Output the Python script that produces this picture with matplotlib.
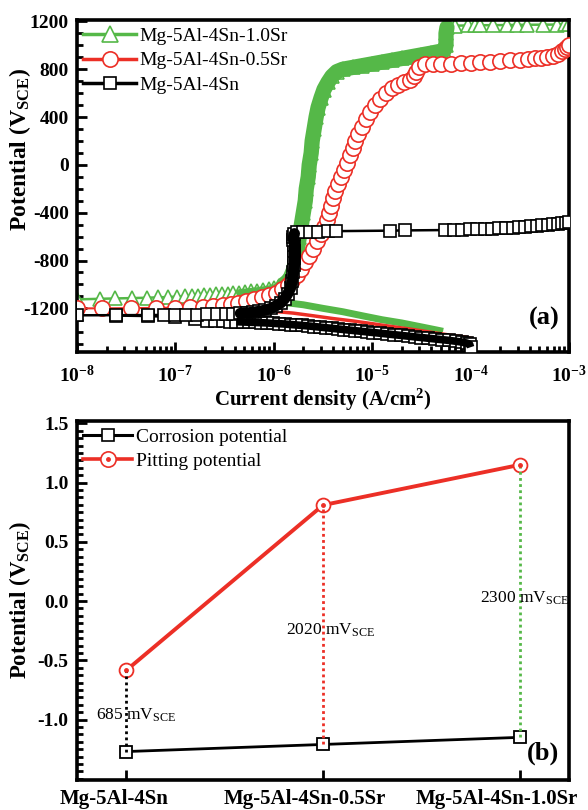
import numpy as np
import matplotlib
matplotlib.use("Agg")
import matplotlib.pyplot as plt
from matplotlib.lines import Line2D
from matplotlib.transforms import blended_transform_factory
from matplotlib.ticker import LogLocator, NullFormatter, AutoMinorLocator, FixedLocator, NullLocator

plt.rcParams['font.family'] = ['Liberation Serif', 'DejaVu Serif']
plt.rcParams['mathtext.fontset'] = 'custom'
plt.rcParams['mathtext.rm'] = 'Liberation Serif:bold'
plt.rcParams['mathtext.bf'] = 'Liberation Serif:bold'
plt.rcParams['mathtext.it'] = 'Liberation Serif:italic:bold'
plt.rcParams['mathtext.sf'] = 'Liberation Serif'
plt.rcParams['axes.unicode_minus'] = False

# ---------------- polarization data (log10 of current density, potential in mV) ----------------
# Mg-5Al-4Sn-1.0Sr
sr10_an_log = [-8.0, -7.77, -7.61, -7.44, -7.29, -7.18, -7.08, -6.98, -6.90, -6.83,
               -6.77, -6.71, -6.65, -6.59, -6.53, -6.47, -6.41, -6.35, -6.29, -6.23,
               -6.17, -6.11, -6.05, -6.00, -5.95, -5.90, -5.86, -5.83, -5.80, -5.78,
               -5.76, -5.74, -5.72, -5.70, -5.68, -5.67, -5.65, -5.64, -5.62, -5.61,
               -5.59, -5.57, -5.55, -5.52, -5.49, -5.45, -5.41, -5.36, -5.30, -5.20,
               -5.10, -5.00, -4.90, -4.80, -4.70, -4.60, -4.50, -4.40, -4.32, -4.27,
               -4.25, -4.25, -4.25, -4.24, -4.16, -4.03, -3.96, -3.90, -3.77, -3.63,
               -3.53, -3.43, -3.26, -3.12, -3.04, -3.00]
sr10_an_E = [-1125, -1120, -1117, -1114, -1111, -1108, -1105, -1102, -1099, -1096,
             -1093, -1090, -1087, -1084, -1080, -1076, -1072, -1068, -1063, -1058,
             -1052, -1045, -1037, -1028, -1016, -1000, -975, -940, -880, -800,
             -700, -600, -500, -400, -300, -200, -100, 0, 100, 200,
             300, 400, 480, 560, 630, 690, 740, 780, 800, 815,
             830, 845, 860, 875, 890, 905, 920, 935, 948, 955,
             1000, 1050, 1100, 1150, 1165, 1166, 1167, 1168, 1169, 1170,
             1171, 1172, 1173, 1174, 1175, 1175]
sr10_ca_log = [-5.90, -5.70, -5.50, -5.30, -5.10, -4.90, -4.70, -4.50, -4.35, -4.28]
sr10_ca_E = [-1150, -1170, -1200, -1228, -1262, -1295, -1322, -1355, -1380, -1392]

# Mg-5Al-4Sn-0.5Sr
sr05_an_log = [-8.00, -7.75, -7.45, -7.20, -7.00, -6.85, -6.72, -6.62, -6.52, -6.44,
               -6.36, -6.28, -6.20, -6.12, -6.05, -5.98, -5.92, -5.86, -5.81, -5.76,
               -5.72, -5.68, -5.64, -5.60, -5.56, -5.52, -5.49, -5.46, -5.44, -5.42,
               -5.40, -5.38, -5.35, -5.32, -5.29, -5.26, -5.23, -5.20, -5.17, -5.14,
               -5.10, -5.06, -5.02, -4.97, -4.92, -4.86, -4.80, -4.74, -4.68, -4.62,
               -4.58, -4.55, -4.52, -4.46, -4.38, -4.30, -4.20, -4.10, -4.00, -3.90,
               -3.80, -3.70, -3.60, -3.50, -3.42, -3.35, -3.28, -3.22, -3.16, -3.11,
               -3.07, -3.04, -3.02, -3.00]
sr05_an_E = [-1200, -1200, -1198, -1196, -1194, -1190, -1186, -1180, -1172, -1163,
             -1152, -1140, -1125, -1108, -1090, -1068, -1040, -1005, -965, -920,
             -870, -815, -760, -700, -640, -580, -520, -460, -400, -340,
             -280, -220, -160, -100, -40, 20, 80, 140, 200, 260,
             320, 380, 440, 500, 550, 600, 640, 670, 690, 710,
             740, 780, 820, 840, 842, 845, 848, 850, 853, 858,
             862, 868, 874, 880, 886, 892, 898, 905, 915, 930,
             950, 970, 990, 1000]
sr05_ca_log = [-6.00, -5.80, -5.60, -5.40, -5.20, -5.00, -4.80, -4.60, -4.40, -4.20, -4.05, -4.00]
sr05_ca_E = [-1225, -1240, -1262, -1285, -1305, -1328, -1352, -1375, -1400, -1425, -1440, -1450]

# Mg-5Al-4Sn
sn_an_log = [-8.0, -7.60, -7.28, -7.12, -7.00, -6.89, -6.78, -6.68, -6.58, -6.49,
             -6.41, -6.34, -6.27, -6.21, -6.15, -6.09, -6.03, -5.98, -5.93, -5.89,
             -5.86, -5.83, -5.81, -5.80, -5.79, -5.79, -5.79, -5.79, -5.80, -5.80,
             -5.79, -5.76, -5.70, -5.63, -5.55, -5.45, -5.37, -4.82, -4.67, -4.26,
             -4.17, -4.09, -4.01, -3.93, -3.85, -3.78, -3.71, -3.64, -3.57, -3.51,
             -3.45, -3.39, -3.33, -3.27, -3.21, -3.16, -3.11, -3.07, -3.03, -3.00]
sn_an_E = [-1258, -1257, -1256, -1255, -1254, -1253, -1252, -1251, -1250, -1248,
           -1245, -1242, -1238, -1232, -1225, -1215, -1200, -1180, -1155, -1120,
           -1080, -1030, -970, -900, -840, -780, -720, -670, -630, -600,
           -575, -565, -562, -560, -558, -556, -554, -550, -548, -545,
           -543, -541, -540, -538, -536, -533, -530, -527, -524, -520,
           -516, -512, -508, -504, -500, -496, -492, -488, -484, -480]
sn_ca_log = [-7.6, -7.28, -7.0, -6.8, -6.68, -6.6, -6.52, -6.45, -6.38, -6.31,
             -6.25, -6.19, -6.13, -6.07, -6.01, -5.95, -5.89, -5.83, -5.77, -5.71,
             -5.65, -5.59, -5.53, -5.47, -5.41, -5.35, -5.29, -5.23, -5.17, -5.11,
             -5.05, -4.99, -4.92, -4.85, -4.78, -4.71, -4.64, -4.57, -4.50, -4.43,
             -4.36, -4.29, -4.22, -4.15, -4.09, -4.04, -4.01, -4.0]
sn_ca_E = [-1262, -1266, -1275, -1290, -1303, -1306, -1308, -1310, -1312, -1314,
           -1316, -1318, -1320, -1322, -1325, -1328, -1331, -1335, -1339, -1343,
           -1347, -1352, -1357, -1362, -1367, -1372, -1377, -1382, -1387, -1392,
           -1397, -1402, -1408, -1414, -1420, -1426, -1432, -1438, -1444, -1450,
           -1456, -1462, -1468, -1475, -1482, -1490, -1500, -1525]

alloy_names = ['Mg-5Al-4Sn-1.0Sr', 'Mg-5Al-4Sn-0.5Sr', 'Mg-5Al-4Sn']

x_tick_exp = [-8, -7, -6, -5, -4, -3]
y_ticks_a = [-1200, -800, -400, 0, 400, 800, 1200]

# ---------------- summary data (V vs SCE) ----------------
categories = ['Mg-5Al-4Sn', 'Mg-5Al-4Sn-0.5Sr', 'Mg-5Al-4Sn-1.0Sr']
corrosion_potential = [-1.27, -1.21, -1.15]
pitting_potential = [-0.585, 0.81, 1.15]
y_ticks_b = [-1.0, -0.5, 0.0, 0.5, 1.0, 1.5]

GREEN = '#55b848'
RED = '#ec2f26'
BLACK = '#000000'

fig = plt.figure(figsize=(5.88, 8.10), dpi=100)
ax1 = fig.add_axes([77 / 588, 1 - 352 / 810, 492 / 588, 332 / 810])
ax2 = fig.add_axes([77 / 588, 1 - 780 / 810, 492 / 588, 359 / 810])


def curr(logs):
    return np.power(10.0, np.asarray(logs, dtype=float))


# ---- panel (a) ----
g_log, g_E = np.asarray(sr10_an_log), np.asarray(sr10_an_E)
r_log, r_E = np.asarray(sr05_an_log), np.asarray(sr05_an_E)
k_log, k_E = np.asarray(sn_an_log), np.asarray(sn_an_E)
kc_log, kc_E = np.asarray(sn_ca_log), np.asarray(sn_ca_E)

# green: cathodic band, anodic markers, dense regions as a solid band
ax1.plot(curr(sr10_ca_log), sr10_ca_E, color=GREEN, lw=5, solid_capstyle='butt', zorder=2)
ax1.plot(curr(g_log), g_E, color=GREEN, lw=1.8, marker='^', ms=10, mfc='white',
         mec=GREEN, mew=1.2, zorder=2)
low = (g_log >= -6.35) & (g_E <= -1000)
ax1.plot(curr(g_log[low]), g_E[low], color=GREEN, lw=5, solid_capstyle='round', zorder=2.1)
steep = (g_E >= -1000) & (g_E <= 1150)
ax1.plot(curr(g_log[steep]), g_E[steep], color=GREEN, lw=11, solid_capstyle='round',
         solid_joinstyle='round', zorder=2.1)

# red
ax1.plot(curr(sr05_ca_log), sr05_ca_E, color=RED, lw=2.5, zorder=3)
ax1.plot(curr(r_log), r_E, color=RED, lw=1.5, marker='o', ms=11, mfc='white',
         mec=RED, mew=1.2, zorder=3)

# black
ax1.plot(curr(kc_log), kc_E, color=BLACK, lw=1.5, marker='s', ms=8, mfc='white',
         mec=BLACK, mew=1.2, zorder=4)
dense_c = kc_log >= -6.4
ax1.plot(curr(kc_log[dense_c]), kc_E[dense_c], color=BLACK, lw=5.5, solid_capstyle='butt',
         zorder=4.05)
ax1.plot(curr(k_log), k_E, color=BLACK, lw=1.8, marker='s', ms=8, mfc='white',
         mec=BLACK, mew=1.2, zorder=4)
knee = (k_log >= -6.35) & (k_E <= -570)
ax1.plot(curr(k_log[knee]), k_E[knee], color=BLACK, lw=8, solid_capstyle='round',
         solid_joinstyle='round', zorder=4.1)

ax1.set_xscale('log')
ax1.set_xlim(1e-8, 1e-3)
ax1.set_ylim(-1565, 1212)
ax1.xaxis.set_major_locator(FixedLocator([10.0 ** e for e in x_tick_exp]))
ax1.set_xticklabels([r'$\mathbf{10^{%d}}$' % e for e in x_tick_exp])
ax1.xaxis.set_minor_locator(LogLocator(base=10, subs=np.arange(2, 10)))
ax1.xaxis.set_minor_formatter(NullFormatter())
ax1.set_yticks(y_ticks_a)
ax1.set_yticklabels([str(v) for v in y_ticks_a])
ax1.yaxis.set_minor_locator(AutoMinorLocator(4))
ax1.tick_params(which='both', direction='in', top=False, right=False, width=2)
ax1.tick_params(which='major', length=7, labelsize=14)
ax1.tick_params(which='minor', length=4)
ax1.tick_params(axis='x', which='major', pad=9)
ax1.tick_params(axis='y', which='major', pad=6)
for lab in ax1.get_yticklabels():
    lab.set_fontweight('bold')
ax1.set_xlabel('Current density (A/cm$^{2}$)', fontsize=15, fontweight='bold', labelpad=1)
ax1.set_ylabel(r'Potential (V$_{\mathbf{SCE}}$)', fontsize=17, fontweight='bold')
ax1.yaxis.set_label_coords(-0.09, 0.61)
for s in ax1.spines.values():
    s.set_linewidth(2.6)

leg_handles = [
    Line2D([], [], color=GREEN, lw=2.5, marker='^', ms=11, mfc='white', mec=GREEN, mew=1.2),
    Line2D([], [], color=RED, lw=2.5, marker='o', ms=11, mfc='white', mec=RED, mew=1.2),
    Line2D([], [], color=BLACK, lw=2.5, marker='s', ms=9, mfc='white', mec=BLACK, mew=1.2),
]
ax1.legend(leg_handles, alloy_names, loc='upper left', bbox_to_anchor=(0.005, 0.99),
           frameon=False, fontsize=14, handlelength=2.7, handletextpad=0.2,
           labelspacing=0.36, borderaxespad=0, borderpad=0.2, numpoints=1)
ax1.text(0.949, 0.10, '(a)', transform=ax1.transAxes, fontsize=19, fontweight='bold',
         ha='center', va='center')

# ---- panel (b) ----
xpos = np.arange(len(categories))
gap_colors = [BLACK, RED, GREEN]
ax2.plot(xpos, corrosion_potential, color=BLACK, lw=2, marker='s', ms=8, mfc='white',
         mec=BLACK, mew=1.3, zorder=3)
ax2.plot(xpos, pitting_potential, color=RED, lw=2.8, marker='o', ms=10, mfc='white',
         mec=RED, mew=1.3, zorder=3)
ax2.vlines(xpos, corrosion_potential, pitting_potential, colors=gap_colors,
           linestyles=(0, (1, 1.2)), lw=2, zorder=5)
ax2.plot(xpos, pitting_potential, ls='none', marker='o', ms=2.5, color=RED, zorder=6)

label_y = [-0.96, -0.245, 0.025]
label_dx = [0.05, 0.04, 0.025]
for i in range(len(categories)):
    gap_mv = (pitting_potential[i] - corrosion_potential[i]) * 1000
    ax2.text(xpos[i] + label_dx[i], label_y[i], r'%.0f mV$_{\mathsf{SCE}}$' % gap_mv,
             fontsize=12.5, ha='center', va='center', zorder=7)

ax2.set_xlim(-0.25, 2.25)
ax2.set_ylim(-1.51, 1.52)
ax2.set_xticks(xpos)
ax2.set_xticklabels([])
# category names sit slightly left of their tick so the last one stays inside the figure
cat_trans = blended_transform_factory(ax2.transData, ax2.transAxes)
name_dx = [-0.06, -0.09, -0.115]
for i, name in enumerate(categories):
    ax2.text(xpos[i] + name_dx[i], -0.024, name, transform=cat_trans, ha='center', va='top',
             fontsize=15, fontweight='bold', clip_on=False)
ax2.set_yticks(y_ticks_b)
ax2.set_yticklabels(['%.1f' % v for v in y_ticks_b], fontsize=14, fontweight='bold')
ax2.yaxis.set_minor_locator(AutoMinorLocator(8))
ax2.xaxis.set_minor_locator(NullLocator())
ax2.tick_params(which='both', direction='in', top=False, right=False, width=2)
ax2.tick_params(which='major', length=7)
ax2.tick_params(which='minor', length=4)
ax2.tick_params(axis='y', pad=6)
ax2.set_ylabel(r'Potential (V$_{\mathbf{SCE}}$)', fontsize=16.5, fontweight='bold')
ax2.yaxis.set_label_coords(-0.09, 0.5)
for s in ax2.spines.values():
    s.set_linewidth(2.6)

corr_handle = Line2D([], [], color=BLACK, lw=2.2, marker='s', ms=9, mfc='white', mec=BLACK, mew=1.2)
pit_ring = Line2D([], [], color=RED, lw=2.6, marker='o', ms=11, mfc='white', mec=RED, mew=1.2)
pit_dot = Line2D([], [], ls='none', marker='o', ms=2.5, color=RED)
ax2.legend([corr_handle, (pit_ring, pit_dot)], ['Corrosion potential', 'Pitting potential'],
           loc='upper left', bbox_to_anchor=(0.005, 0.99), frameon=False, fontsize=14,
           handlelength=2.5, handletextpad=0.2, labelspacing=0.3, borderaxespad=0,
           borderpad=0.2, numpoints=1)
ax2.text(0.948, 0.074, '(b)', transform=ax2.transAxes, fontsize=19, fontweight='bold',
         ha='center', va='center')

fig.savefig('out.png', dpi=100)
